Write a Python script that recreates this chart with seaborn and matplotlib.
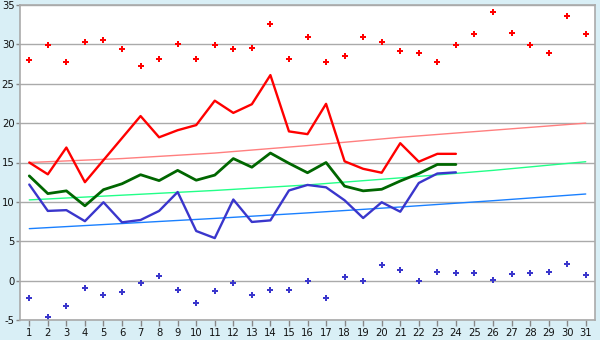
import matplotlib
matplotlib.use("Agg")
import matplotlib.pyplot as plt
import seaborn as sns
import pandas as pd

days = list(range(1, 32))
obs_days = list(range(1, 25))

record_max = [28.0, 29.9, 27.8, 30.3, 30.5, 29.4, 27.2, 28.1, 30.1, 28.2,
              29.9, 29.4, 29.6, 32.6, 28.2, 31.0, 27.8, 28.5, 30.9, 30.3,
              29.1, 28.85, 27.8, 29.9, 31.3, 34.1, 31.5, 29.9, 28.85, 33.6, 31.3]
record_min = [-2.2, -4.6, -3.2, -0.9, -1.8, -1.4, -0.25, 0.65, -1.15, -2.8,
              -1.3, -0.25, -1.8, -1.15, -1.15, 0.0, -2.2, 0.5, 0.0, 2.0,
              1.4, 0.0, 1.15, 1.0, 1.0, 0.1, 0.9, 1.0, 1.15, 2.15, 0.75]

tmax = [15.0, 13.5, 16.9, 12.5, 15.3, 18.1, 20.9, 18.2, 19.1, 19.75,
        22.85, 21.3, 22.4, 26.1, 18.95, 18.6, 22.45, 15.15, 14.2, 13.7,
        17.45, 15.1, 16.1, 16.1]
tmean = [13.3, 11.05, 11.4, 9.5, 11.55, 12.3, 13.45, 12.7, 14.0, 12.75,
         13.4, 15.5, 14.4, 16.2, 14.9, 13.7, 15.0, 12.0, 11.4, 11.6,
         12.65, 13.6, 14.75, 14.75]
tmin = [12.2, 8.85, 8.95, 7.55, 9.95, 7.4, 7.7, 8.85, 11.25, 6.3,
        5.4, 10.3, 7.45, 7.65, 11.45, 12.15, 11.85, 10.2, 7.95, 9.95,
        8.75, 12.4, 13.6, 13.75]

norm_days = [1, 6, 11, 16, 21, 26, 31]
norm_max = [15.0, 15.5, 16.2, 17.15, 18.2, 19.1, 20.0]
norm_mean = [10.25, 10.85, 11.45, 12.15, 13.05, 14.0, 15.1]
norm_min = [6.6, 7.25, 7.9, 8.6, 9.35, 10.15, 11.0]

x_ticks = list(range(1, 32))
y_ticks = [-5, 0, 5, 10, 15, 20, 25, 30, 35]

sns.set_theme(style="white")
plt.rcParams["font.family"] = ["DejaVu Sans"]

bg = "#d9eff6"
fig = plt.figure(figsize=(6, 3.4), dpi=100, facecolor=bg)
ax = fig.add_axes([20 / 600, 20 / 340, 575 / 600, 315 / 340])
ax.set_facecolor("white")

df_obs = pd.DataFrame({"day": obs_days, "tmax": tmax, "tmean": tmean, "tmin": tmin})
df_norm = pd.DataFrame({"day": norm_days, "nmax": norm_max, "nmean": norm_mean, "nmin": norm_min})
df_rec = pd.DataFrame({"day": days, "rmax": record_max, "rmin": record_min})

sns.lineplot(data=df_norm, x="day", y="nmax", ax=ax, color="#ff7f7f", linewidth=1.0)
sns.lineplot(data=df_norm, x="day", y="nmean", ax=ax, color="#22ff88", linewidth=1.0)
sns.lineplot(data=df_norm, x="day", y="nmin", ax=ax, color="#1a80ff", linewidth=1.0)

sns.lineplot(data=df_obs, x="day", y="tmax", ax=ax, color="#ff0000", linewidth=1.7)
sns.lineplot(data=df_obs, x="day", y="tmean", ax=ax, color="#006600", linewidth=2.0)
sns.lineplot(data=df_obs, x="day", y="tmin", ax=ax, color="#3a36cc", linewidth=1.7)

sns.scatterplot(data=df_rec, x="day", y="rmax", ax=ax, color="#ff0000", marker="P",
                s=20, linewidth=0)
sns.scatterplot(data=df_rec, x="day", y="rmin", ax=ax, color="#3a36cc", marker="P",
                s=20, linewidth=0)

ax.set_xlim(0.5, 31.5)
ax.set_ylim(-5, 35)
ax.set_xticks(x_ticks)
ax.set_xticklabels([str(t) for t in x_ticks])
ax.set_yticks(y_ticks)
ax.set_yticklabels([str(t) for t in y_ticks])
ax.set_xlabel("")
ax.set_ylabel("")

ax.grid(axis="y", color="#aaaaaa", linewidth=1.0)
ax.set_axisbelow(True)
for sp in ax.spines.values():
    sp.set_visible(True)
    sp.set_color("#aaaaaa")
    sp.set_linewidth(1.2)

ax.tick_params(axis="x", which="both", direction="out", length=4, width=1,
               color="#888888", labelsize=7.2, labelcolor="#111111", pad=2,
               bottom=True)
ax.tick_params(axis="y", which="both", direction="out", length=3, width=1,
               color="#888888", labelsize=7.2, labelcolor="#111111", pad=1,
               left=True)

fig.savefig("out.png", dpi=100, facecolor=bg)
